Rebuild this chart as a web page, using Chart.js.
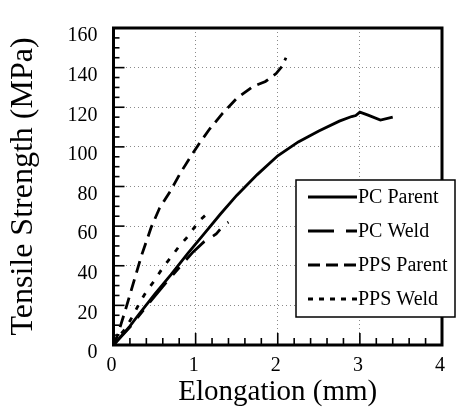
<!DOCTYPE html>
<html><head><meta charset="utf-8">
<script src="https://cdn.jsdelivr.net/npm/chart.js@4/dist/chart.umd.min.js"></script>
<style>html,body{margin:0;padding:0;background:#fff;}#wrap{width:456px;height:412px;}</style>
</head><body><div id="wrap"><canvas id="c" width="456" height="412"></canvas></div>
<script>
// ---- data ----
const seriesNames = ["PC Parent", "PC Weld", "PPS Parent", "PPS Weld"];
const pcParentX = [0, 0.05, 0.2, 0.3, 0.5, 0.7, 0.9, 1.1, 1.3, 1.5, 1.75, 2.0, 2.25, 2.5, 2.75, 2.9, 2.95, 3.0, 3.1, 3.25, 3.4];
const pcParentY = [0, 2.5, 9.5, 15, 25.5, 35.5, 46, 56, 66, 75.5, 86, 95.5, 102.5, 108, 113, 115.3, 115.8, 117.5, 116, 113.5, 115];
const pcWeldX = [0, 0.2, 0.45, 0.63, 0.83, 0.97, 1.1, 1.25, 1.34, 1.4];
const pcWeldY = [0, 9, 22, 31, 40.5, 47, 52, 56, 60.5, 62];
const ppsParentX = [0, 0.05, 0.14, 0.24, 0.34, 0.46, 0.56, 0.69, 0.81, 0.93, 1.05, 1.17, 1.33, 1.5, 1.7, 1.85, 1.98, 2.05, 2.1];
const ppsParentY = [0, 5, 17, 31, 45, 59.5, 69, 77.5, 86.5, 94.5, 102, 109, 117, 124.5, 130.5, 133, 137, 140.5, 145];
const ppsWeldX = [0, 0.05, 0.14, 0.24, 0.32, 0.40, 0.50, 0.60, 0.69, 0.79, 0.89, 1.05, 1.12];
const ppsWeldY = [0, 3.5, 8, 15, 21.5, 27, 32.6, 39, 43.8, 49.3, 54.1, 62.9, 65.5];
const xTickValues = [0, 1, 2, 3, 4];
const yTickValues = [0, 20, 40, 60, 80, 100, 120, 140, 160];
const xMinorStep = 0.2;
const yMinorStep = 5;

const pts = (xs, ys) => xs.map((x, i) => ({x: x, y: ys[i]}));
const FONT = '"Liberation Serif", "Times New Roman", serif';

const lineStyles = [
  {dash: [], legendDash: []},
  {dash: [26, 10, 10, 10], legendDash: [26, 12, 11, 10]},
  {dash: [12, 7], legendDash: [12, 6]},
  {dash: [5, 9], legendDash: [5, 6]}
];
const seriesData = [pts(pcParentX, pcParentY), pts(pcWeldX, pcWeldY), pts(ppsParentX, ppsParentY), pts(ppsWeldX, ppsWeldY)];

const datasets = seriesNames.map((n, i) => ({
  label: n,
  data: seriesData[i],
  borderColor: '#000',
  borderWidth: 2.8,
  borderDash: lineStyles[i].dash,
  pointRadius: 0,
  showLine: true,
  fill: false,
  tension: 0
}));

const framePlugin = {
  id: 'frame',
  afterDraw(chart) {
    const ctx = chart.ctx, a = chart.chartArea, xs = chart.scales.x, ys = chart.scales.y;
    ctx.save();
    ctx.strokeStyle = '#000';
    ctx.setLineDash([]);
    // inward ticks
    ctx.lineWidth = 1.6;
    const yMax = yTickValues[yTickValues.length - 1];
    for (let v = 0; v <= yMax + 1e-9; v += yMinorStep) {
      const py = ys.getPixelForValue(v);
      const major = yTickValues.includes(Math.round(v));
      ctx.beginPath(); ctx.moveTo(a.left, py); ctx.lineTo(a.left + (major ? 11 : 6), py); ctx.stroke();
    }
    const xMax = xTickValues[xTickValues.length - 1];
    const nx = Math.round(xMax / xMinorStep);
    for (let i = 0; i <= nx; i++) {
      const v = i * xMinorStep;
      const px = xs.getPixelForValue(v);
      const major = Math.abs(v - Math.round(v)) < 1e-6;
      ctx.beginPath(); ctx.moveTo(px, a.bottom); ctx.lineTo(px, a.bottom - (major ? 12 : 7)); ctx.stroke();
    }
    // frame
    ctx.lineWidth = 3;
    ctx.strokeRect(a.left, a.top, a.right - a.left, a.bottom - a.top);
    // legend box
    const bx = 296, by = 180, bw = 159, bh = 137;
    ctx.fillStyle = '#fff';
    ctx.fillRect(bx, by, bw, bh);
    ctx.lineWidth = 1.5;
    ctx.strokeRect(bx, by, bw, bh);
    ctx.font = '20px ' + FONT;
    ctx.textBaseline = 'middle';
    ctx.textAlign = 'left';
    chart.data.datasets.forEach((ds, i) => {
      const ry = 197 + i * 34;
      ctx.lineWidth = 3;
      ctx.setLineDash(lineStyles[i].legendDash);
      ctx.beginPath(); ctx.moveTo(308, ry); ctx.lineTo(357, ry); ctx.stroke();
      ctx.setLineDash([]);
      ctx.fillStyle = '#000';
      ctx.fillText(ds.label, 358, ry + 1);
    });
    ctx.restore();
  }
};

const gridColor = (maxV) => (c) => (c.tick && (c.tick.value === 0 || c.tick.value === maxV)) ? 'rgba(0,0,0,0)' : '#8a8a8a';

new Chart(document.getElementById('c'), {
  type: 'scatter',
  data: {datasets: datasets},
  options: {
    responsive: false,
    devicePixelRatio: 1,
    animation: false,
    layout: {padding: {left: 0, top: 10, right: 13.5, bottom: 0}},
    plugins: {legend: {display: false}, tooltip: {enabled: false}},
    scales: {
      x: {
        type: 'linear', min: 0, max: 4,
        afterBuildTicks: (s) => { s.ticks = xTickValues.map(v => ({value: v})); },
        afterFit: (s) => { s.height = 67; },
        ticks: {color: '#000', font: {family: FONT, size: 20}, padding: 9, labelOffset: -2, maxRotation: 0, callback: v => String(v)},
        grid: {color: gridColor(4), lineWidth: 1, drawTicks: false},
        border: {display: false, dash: [1, 3]},
        title: {display: true, text: 'Elongation (mm)', color: '#000', font: {family: FONT, size: 29}, padding: {top: 0, bottom: 2}}
      },
      y: {
        type: 'linear', min: 0, max: 160,
        afterBuildTicks: (s) => { s.ticks = yTickValues.map(v => ({value: v})); },
        afterFit: (s) => { s.width = 113.5; },
        ticks: {color: '#000', font: {family: FONT, size: 20}, padding: 16, labelOffset: 8, callback: v => String(v)},
        grid: {color: gridColor(160), lineWidth: 1, drawTicks: false},
        border: {display: false, dash: [1, 3]},
        title: {display: true, text: 'Tensile Strength (MPa)', color: '#000', font: {family: FONT, size: 32}, padding: {top: 4, bottom: 0}}
      }
    }
  },
  plugins: [framePlugin]
});
</script>
</body></html>
